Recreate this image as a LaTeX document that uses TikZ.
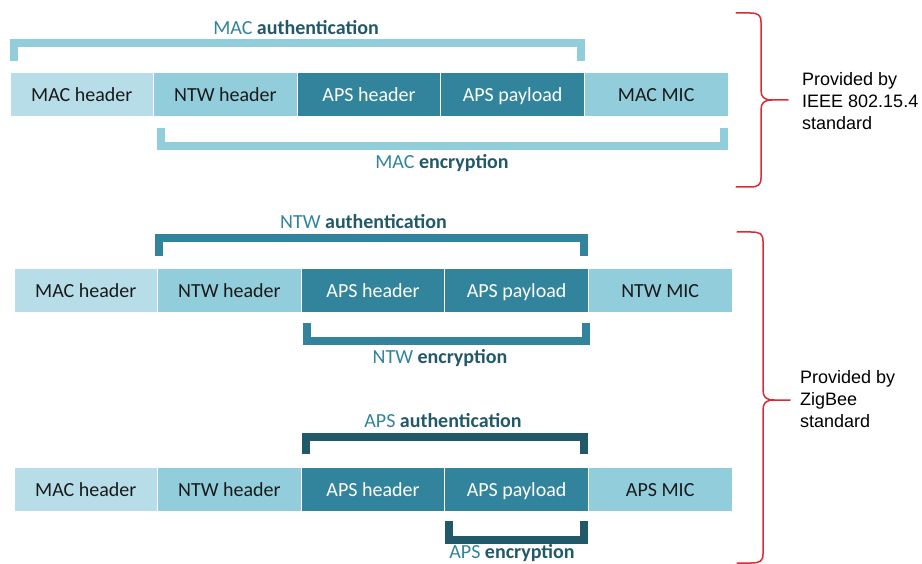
\documentclass[tikz,border=0pt]{standalone}
\usepackage{fontspec}
\setmainfont{Carlito}
\newfontfamily\arialf{Liberation Sans}
\definecolor{cMACh}{HTML}{B6DDE8}
\definecolor{cNTWh}{HTML}{92CDDC}
\definecolor{cAPS}{HTML}{31849B}
\definecolor{cAPSdk}{HTML}{215968}
\definecolor{ctextdk}{HTML}{1A1A1A}
\definecolor{cbrace}{HTML}{DC2A35}
\begin{document}
\begin{tikzpicture}[x=1pt,y=-1pt,
  fieldbox/.style={minimum width=143.6pt,minimum height=44pt,inner sep=0pt,
    draw=white,line width=0.8pt,text height=15pt,text depth=0pt,
    font=\fontsize{20}{24}\selectfont},
  lightfield/.style={fieldbox,fill=cMACh,text=ctextdk},
  midfield/.style={fieldbox,fill=cNTWh,text=ctextdk},
  darkfield/.style={fieldbox,fill=cAPS,text=white},
  brk/.style={line width=8pt,line cap=butt,line join=miter},
  macbrk/.style={brk,draw=cNTWh},
  ntwbrk/.style={brk,draw=cAPS},
  apsbrk/.style={brk,draw=cAPSdk},
  lbl/.style={anchor=base,font=\fontsize{20}{24}\selectfont,text=cAPS},
  bracepath/.style={draw=cbrace,line width=1.5pt,line cap=round,line join=round},
  sidetext/.style={anchor=base west,align=left,inner sep=0pt,
    font=\arialf\fontsize{18}{22}\selectfont,text=black}
]
\useasboundingbox (0,0) rectangle (922,564);

% ---------- Row 1 ----------
\node[lightfield] (r1a) at (81.8,94) {MAC header};
\node[midfield]   (r1b) at (225.4,94) {NTW header};
\node[darkfield]  (r1c) at (369.0,94) {APS header};
\node[darkfield]  (r1d) at (512.6,94) {APS payload};
\node[midfield]   (r1e) at (656.2,94) {MAC MIC};

\draw[macbrk] (13.75,61) -- (13.75,43) -- (581,43) -- (581,61);
\node[lbl] (l1a) at (296,35) {MAC \textbf{\color{cAPSdk}authentication}};
\draw[macbrk] (161,128) -- (161,146) -- (724,146) -- (724,128);
\node[lbl] (l1b) at (442,169) {MAC \textbf{\color{cAPSdk}encryption}};

% ---------- Row 2 ----------
\node[lightfield] (r2a) at (85.8,290) {MAC header};
\node[midfield]   (r2b) at (229.4,290) {NTW header};
\node[darkfield]  (r2c) at (373.0,290) {APS header};
\node[darkfield]  (r2d) at (516.6,290) {APS payload};
\node[midfield]   (r2e) at (660.2,290) {NTW MIC};

\draw[ntwbrk] (159,256) -- (159,238) -- (584,238) -- (584,256);
\node[lbl] (l2a) at (363.5,229) {NTW \textbf{\color{cAPSdk}authentication}};
\draw[ntwbrk] (307,323) -- (307,341) -- (586,341) -- (586,323);
\node[lbl] (l2b) at (440,363) {NTW \textbf{\color{cAPSdk}encryption}};

% ---------- Row 3 ----------
\node[lightfield] (r3a) at (85.8,489) {MAC header};
\node[midfield]   (r3b) at (229.4,489) {NTW header};
\node[darkfield]  (r3c) at (373.0,489) {APS header};
\node[darkfield]  (r3d) at (516.6,489) {APS payload};
\node[midfield]   (r3e) at (660.2,489) {APS MIC};

\draw[apsbrk] (306,454) -- (306,437) -- (584,437) -- (584,454);
\node[lbl] (l3a) at (443,427) {APS \textbf{\color{cAPSdk}authentication}};
\draw[apsbrk] (449,521) -- (449,539.5) -- (584,539.5) -- (584,521);
\node[lbl,inner sep=0pt] (l3b) at (512,558) {APS \textbf{\color{cAPSdk}encryption}};

% ---------- Braces ----------
\draw[bracepath] (736,13) -- (750,13) .. controls (758,13) and (761,15) .. (761,22)
  -- (761,90) .. controls (761,97) and (764,100) .. (772,100) -- (788,100);
\draw[bracepath] (772,100) .. controls (764,100) and (761,103) .. (761,110)
  -- (761,178) .. controls (761,185) and (758,187) .. (750,187) -- (736,187);
\node[sidetext] (t1) at (802,130) {Provided by\\IEEE 802.15.4\\standard};

\draw[bracepath] (737,232) -- (751,232) .. controls (760,232) and (763,234) .. (763,241)
  -- (763,390) .. controls (763,397) and (766,400) .. (774,400) -- (790,400);
\draw[bracepath] (774,400) .. controls (766,400) and (763,403) .. (763,410)
  -- (763,554) .. controls (763,561) and (760,563) .. (751,563) -- (737,563);
\node[sidetext] (t2) at (800,428) {Provided by\\ZigBee\\standard};
\end{tikzpicture}
\end{document}
